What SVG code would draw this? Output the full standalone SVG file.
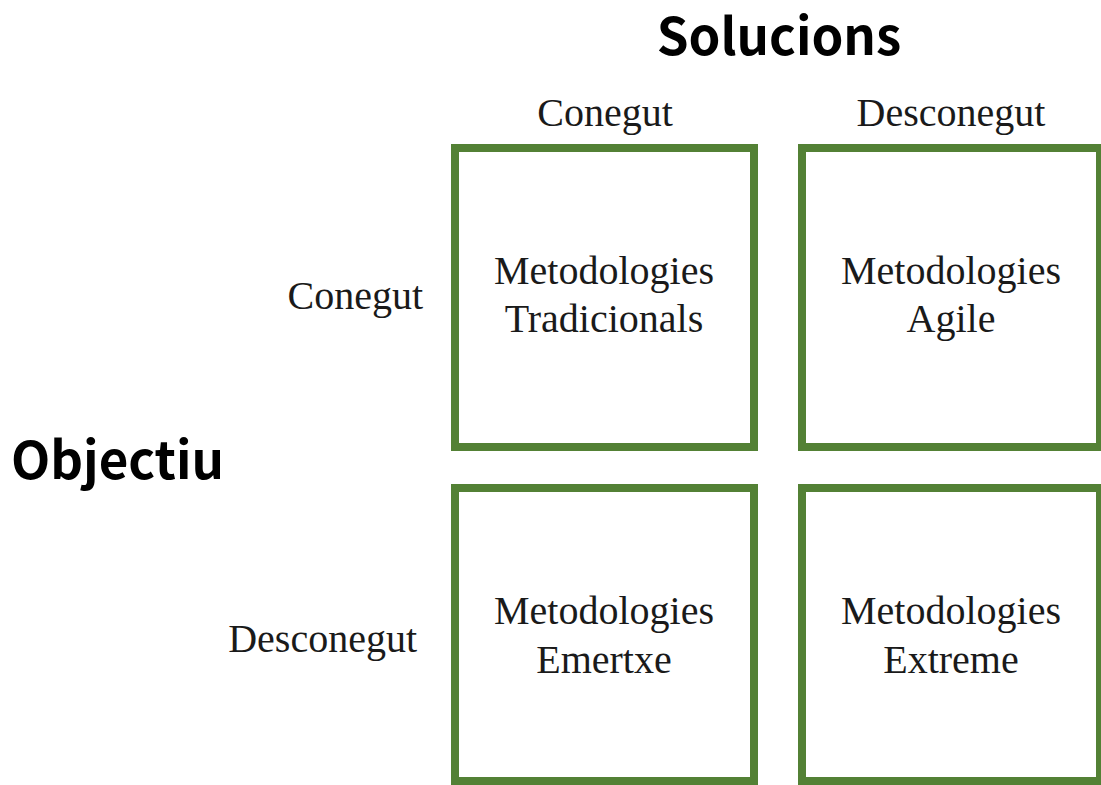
<svg xmlns="http://www.w3.org/2000/svg" width="1101" height="785" viewBox="0 0 1101 785">
<style>
.box{fill:#fff;stroke:#538135;stroke-width:8}
.h{font-family:"Noto Sans CJK JP","Noto Sans",sans-serif;font-weight:bold;font-size:51px;fill:#000}
.t{font-family:"Liberation Serif",serif;font-size:40px;fill:#1a1a1a}
</style>
<rect width="1101" height="785" fill="#fff"/>
<text class="h" x="779" y="55" text-anchor="middle">Solucions</text>
<text class="h" x="11" y="479">Objectiu</text>
<text class="t" x="605" y="126" text-anchor="middle">Conegut</text>
<text class="t" x="951" y="126" text-anchor="middle">Desconegut</text>
<text class="t" x="423" y="309" text-anchor="end">Conegut</text>
<text class="t" x="417" y="652" text-anchor="end">Desconegut</text>
<g id="node-tradicionals">
<rect class="box" x="455" y="148" width="299" height="299"/>
<text class="t" x="604" y="284" text-anchor="middle">Metodologies</text>
<text class="t" x="604" y="332" text-anchor="middle">Tradicionals</text>
</g>
<g id="node-agile">
<rect class="box" x="802" y="148" width="298" height="299"/>
<text class="t" x="951" y="284" text-anchor="middle">Metodologies</text>
<text class="t" x="951" y="332" text-anchor="middle">Agile</text>
</g>
<g id="node-emertxe">
<rect class="box" x="455" y="488" width="299" height="293"/>
<text class="t" x="604" y="624" text-anchor="middle">Metodologies</text>
<text class="t" x="604" y="673" text-anchor="middle">Emertxe</text>
</g>
<g id="node-extreme">
<rect class="box" x="802" y="488" width="298" height="293"/>
<text class="t" x="951" y="624" text-anchor="middle">Metodologies</text>
<text class="t" x="951" y="673" text-anchor="middle">Extreme</text>
</g>
<g id="connectors"></g>
</svg>
